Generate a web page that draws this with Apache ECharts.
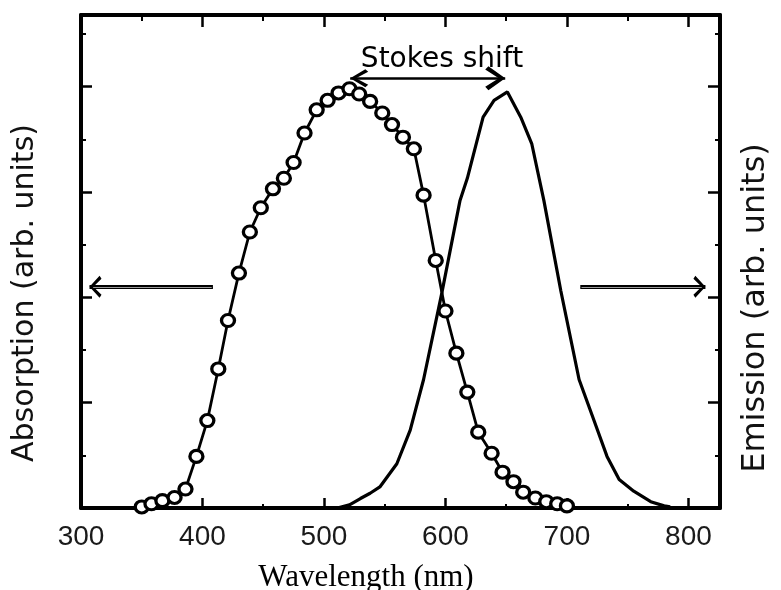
<!DOCTYPE html>
<html>
<head>
<meta charset="utf-8">
<script src="https://cdn.jsdelivr.net/npm/echarts@6/dist/echarts.min.js"></script>
<style>
html,body{margin:0;padding:0;background:#fff;}
#chart{width:781px;height:590px;}
</style>
</head>
<body>
<div id="chart"></div>
<script>
// Absorption (open circles)
const absX = [350,358,367,377,386,395,404,413,421,430,439,448,458,467,475,484,494,503,512,521,529,538,548,556,565,574,582,592,600,609,618,627,638,647,656,664,674,683,692,700];
const absY = [0.01,0.04,0.07,0.10,0.18,0.49,0.83,1.32,1.78,2.23,2.62,2.85,3.03,3.13,3.28,3.56,3.78,3.87,3.94,3.98,3.93,3.86,3.75,3.64,3.52,3.41,2.97,2.35,1.87,1.47,1.10,0.72,0.52,0.34,0.25,0.15,0.095,0.06,0.04,0.02];
// Emission (solid line)
const emX = [511,521,530,538,546,560,571,582,597,612,618,631,640,651,662,671,681,695,710,722,733,743,755,769,780,785];
const emY = [0,0.03,0.09,0.14,0.20,0.42,0.74,1.22,2.04,2.92,3.13,3.71,3.87,3.95,3.71,3.46,2.92,2.06,1.22,0.84,0.49,0.27,0.16,0.06,0.02,0.01];
// Axis ranges / ticks
const xMin = 300, xMax = 826, xInterval = 100;
const yMin = 0, yMax = 4.68, yInterval = 1;
// Annotations (data coordinates)
const stokesX = [521.6, 649.2], stokesY = 4.08;
const leftArrowX = [408.6, 307], rightArrowX = [711, 814], arrowY = 2.10;

const absData = absX.map((x, i) => [x, absY[i]]);
const emData = emX.map((x, i) => [x, emY[i]]);
const CHEV = 'path://M50,0 L100,84 L86,100 L50,32 L14,100 L0,84 Z';

const chart = echarts.init(document.getElementById('chart'), null, {renderer: 'canvas'});
const axisLineStyle = {color: '#000', width: 4};
const tickStyle = {color: '#000', width: 2.5};
chart.setOption({
  animation: false,
  backgroundColor: '#fff',
  grid: {left: 81, right: 61, top: 15, bottom: 82},
  xAxis: [
    {type: 'value', position: 'bottom', min: xMin, max: xMax, interval: xInterval,
     axisLine: {show: true, onZero: false, lineStyle: axisLineStyle},
     axisTick: {show: true, inside: true, length: 10, lineStyle: tickStyle},
     minorTick: {show: true, splitNumber: 2, length: 4, lineStyle: {color: '#000', width: 2}},
     splitLine: {show: false},
     axisLabel: {show: true, margin: 15, fontSize: 28, fontFamily: 'Liberation Sans', color: '#1a1a1a', showMinLabel: true, showMaxLabel: false}},
    {type: 'value', position: 'top', min: xMin, max: xMax, interval: xInterval,
     axisLine: {show: true, onZero: false, lineStyle: axisLineStyle},
     axisTick: {show: true, inside: true, length: 12, lineStyle: tickStyle},
     minorTick: {show: true, splitNumber: 2, length: 6, lineStyle: {color: '#000', width: 2}},
     splitLine: {show: false}, axisLabel: {show: false}}
  ],
  yAxis: [
    {type: 'value', position: 'left', min: yMin, max: yMax, interval: yInterval,
     axisLine: {show: true, onZero: false, lineStyle: axisLineStyle},
     axisTick: {show: true, inside: true, length: 11, lineStyle: tickStyle},
     minorTick: {show: true, splitNumber: 2, length: 5, lineStyle: {color: '#000', width: 2}},
     splitLine: {show: false}, axisLabel: {show: false}},
    {type: 'value', position: 'right', min: yMin, max: yMax, interval: yInterval,
     axisLine: {show: true, onZero: false, lineStyle: axisLineStyle},
     axisTick: {show: true, inside: true, length: 12, lineStyle: tickStyle},
     minorTick: {show: true, splitNumber: 2, length: 5, lineStyle: {color: '#000', width: 2}},
     splitLine: {show: false}, axisLabel: {show: false}}
  ],
  series: [
    {type: 'line', name: 'Emission', xAxisIndex: 0, yAxisIndex: 1, data: emData,
     showSymbol: false, symbol: 'none', lineStyle: {color: '#000', width: 3.2}, z: 3},
    {type: 'line', name: 'Absorption', xAxisIndex: 0, yAxisIndex: 0, data: absData,
     symbol: 'circle', symbolSize: [13, 12], showSymbol: true, showAllSymbol: true,
     itemStyle: {color: '#fff', borderColor: '#000', borderWidth: 3.2},
     lineStyle: {color: '#000', width: 2.8}, z: 4,
     markLine: {
       silent: true, animation: false, label: {show: false},
       data: [
         [{coord: [stokesX[0], stokesY], symbol: CHEV, symbolSize: [18, 18], symbolOffset: [0, 9],
           lineStyle: {color: '#000', width: 2.5, type: 'solid'}},
          {coord: [stokesX[1], stokesY], symbol: CHEV, symbolSize: [24, 20], symbolOffset: [0, 10]}],
         [{coord: [leftArrowX[0], arrowY], symbol: 'none', lineStyle: {color: '#000', width: 4, type: 'solid'}},
          {coord: [leftArrowX[1], arrowY], symbol: CHEV, symbolSize: [22, 12], symbolOffset: [0, 6]}],
         [{coord: [leftArrowX[0] - 1, arrowY], symbol: 'none', lineStyle: {color: '#9a9a9a', width: 1, type: 'solid'}},
          {coord: [leftArrowX[1] + 3, arrowY], symbol: 'none'}],
         [{coord: [rightArrowX[0], arrowY], symbol: 'none', lineStyle: {color: '#000', width: 4, type: 'solid'}},
          {coord: [rightArrowX[1], arrowY], symbol: CHEV, symbolSize: [22, 12], symbolOffset: [0, 6]}],
         [{coord: [rightArrowX[0] + 1, arrowY], symbol: 'none', lineStyle: {color: '#9a9a9a', width: 1, type: 'solid'}},
          {coord: [rightArrowX[1] - 3, arrowY], symbol: 'none'}]
       ]
     }}
  ],
  graphic: [
    {type: 'text', x: 442, y: 60, silent: true,
     style: {text: 'Stokes shift', font: '28px "DejaVu Sans"', fill: '#000', textAlign: 'center', textVerticalAlign: 'middle'}},
    {type: 'text', x: 25, y: 293, rotation: Math.PI / 2, silent: true,
     style: {text: 'Absorption (arb. units)', font: '30px "DejaVu Sans"', fill: '#111', textAlign: 'center', textVerticalAlign: 'middle'}},
    {type: 'text', x: 756, y: 308, rotation: Math.PI / 2, silent: true,
     style: {text: 'Emission (arb. units)', font: '32px "DejaVu Sans"', fill: '#111', textAlign: 'center', textVerticalAlign: 'middle'}},
    {type: 'text', x: 366, y: 578, silent: true,
     style: {text: 'Wavelength (nm)', font: '31px "Liberation Serif"', fill: '#000', textAlign: 'center', textVerticalAlign: 'middle'}}
  ]
});
</script>
</body>
</html>
